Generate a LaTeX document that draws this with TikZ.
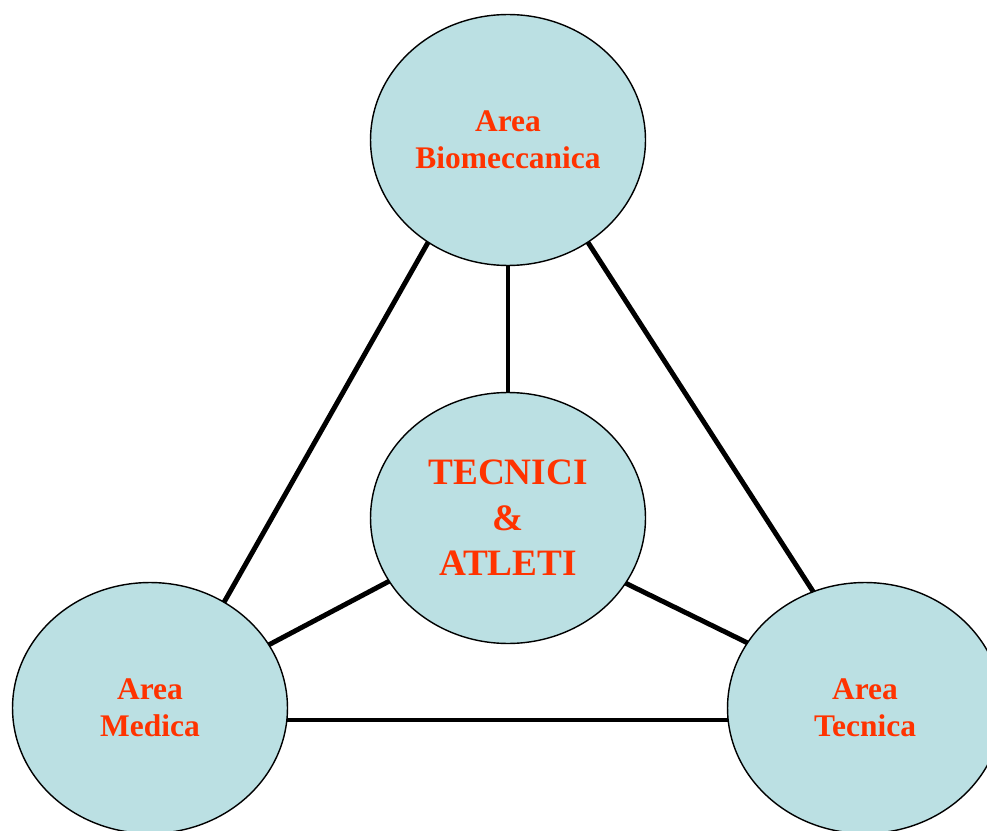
\documentclass[tikz,border=0pt]{standalone}
\usepackage{fontspec}
\setmainfont{Liberation Serif}
\usetikzlibrary{shapes.geometric}
\definecolor{bubble}{HTML}{BBE0E3}
\definecolor{labelred}{HTML}{FF3300}
\tikzset{
  area/.style={ellipse, draw=black, line width=0.8pt, fill=bubble, inner sep=0pt, outer sep=0pt,
    minimum width=5.5cm, minimum height=5.02cm, align=center, text=labelred,
    font=\bfseries\fontsize{17.9pt}{20.9pt}\selectfont},
  hub/.style={area, font=\bfseries\fontsize{21.2pt}{25.9pt}\selectfont},
  link/.style={line width=2.8pt, black}
}
\begin{document}
\begin{tikzpicture}[x=0.02cm,y=-0.02cm]
\useasboundingbox (0,0) rectangle (987,831);
\node[area] (bio) at (508,140) {Area\\Biomeccanica};
\node[hub] (tec) at (508,518) {TECNICI\\\&\\ATLETI};
\node[area] (med) at (150,708) {Area\\Medica};
\node[area] (tcn) at (865,708) {Area\\Tecnica};
\draw[link] (bio.270) -- (tec.90);
\draw[link] (bio.232.2) -- (med.55.9);
\draw[link] (bio.308.5) -- (tcn.114.2);
\draw[link] (tec.208.1) -- (med.28.1);
\draw[link] (tec.331.6) -- (tcn.151.2);
\draw[link] (med.355.6) -- (med.355.6 -| tcn.184.4);
\end{tikzpicture}
\end{document}
